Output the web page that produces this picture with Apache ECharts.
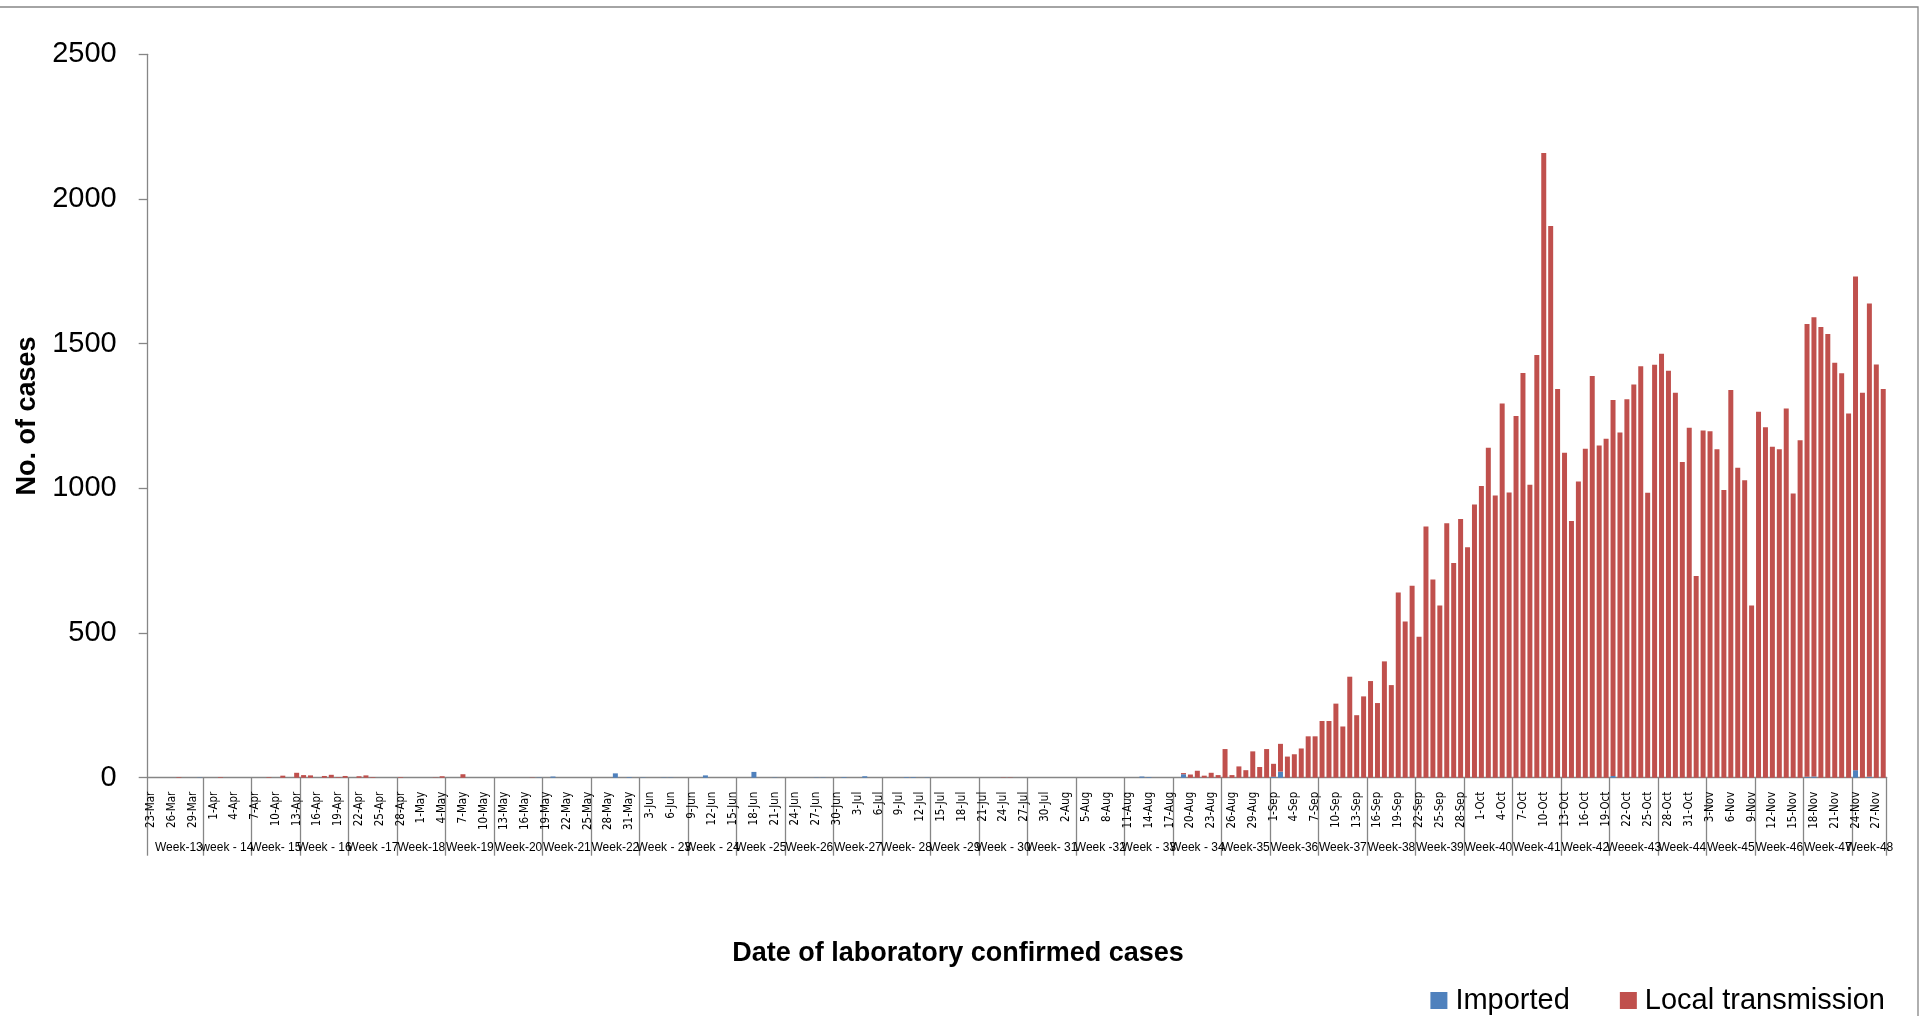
<!DOCTYPE html>
<html>
<head>
<meta charset="utf-8">
<script src="https://cdn.jsdelivr.net/npm/echarts@6/dist/echarts.min.js"></script>
<style>
html,body{margin:0;padding:0;background:#fff;}
#chart{width:1923px;height:1016px;}
</style>
</head>
<body>
<div id="chart"></div>
<script>
const dates = [
'23-Mar','24-Mar','25-Mar','26-Mar','27-Mar','28-Mar','29-Mar','30-Mar','31-Mar',
'1-Apr','2-Apr','3-Apr','4-Apr','5-Apr','6-Apr','7-Apr','8-Apr','9-Apr','10-Apr','11-Apr','12-Apr','13-Apr','14-Apr','15-Apr','16-Apr','17-Apr','18-Apr','19-Apr','20-Apr','21-Apr','22-Apr','23-Apr','24-Apr','25-Apr','26-Apr','27-Apr','28-Apr','29-Apr','30-Apr',
'1-May','2-May','3-May','4-May','5-May','6-May','7-May','8-May','9-May','10-May','11-May','12-May','13-May','14-May','15-May','16-May','17-May','18-May','19-May','20-May','21-May','22-May','23-May','24-May','25-May','26-May','27-May','28-May','29-May','30-May','31-May',
'1-Jun','2-Jun','3-Jun','4-Jun','5-Jun','6-Jun','7-Jun','8-Jun','9-Jun','10-Jun','11-Jun','12-Jun','13-Jun','14-Jun','15-Jun','16-Jun','17-Jun','18-Jun','19-Jun','20-Jun','21-Jun','22-Jun','23-Jun','24-Jun','25-Jun','26-Jun','27-Jun','28-Jun','29-Jun','30-Jun',
'1-Jul','2-Jul','3-Jul','4-Jul','5-Jul','6-Jul','7-Jul','8-Jul','9-Jul','10-Jul','11-Jul','12-Jul','13-Jul','14-Jul','15-Jul','16-Jul','17-Jul','18-Jul','19-Jul','20-Jul','21-Jul','22-Jul','23-Jul','24-Jul','25-Jul','26-Jul','27-Jul','28-Jul','29-Jul','30-Jul','31-Jul',
'1-Aug','2-Aug','3-Aug','4-Aug','5-Aug','6-Aug','7-Aug','8-Aug','9-Aug','10-Aug','11-Aug','12-Aug','13-Aug','14-Aug','15-Aug','16-Aug','17-Aug','18-Aug','19-Aug','20-Aug','21-Aug','22-Aug','23-Aug','24-Aug','25-Aug','26-Aug','27-Aug','28-Aug','29-Aug','30-Aug','31-Aug',
'1-Sep','2-Sep','3-Sep','4-Sep','5-Sep','6-Sep','7-Sep','8-Sep','9-Sep','10-Sep','11-Sep','12-Sep','13-Sep','14-Sep','15-Sep','16-Sep','17-Sep','18-Sep','19-Sep','20-Sep','21-Sep','22-Sep','23-Sep','24-Sep','25-Sep','26-Sep','27-Sep','28-Sep','29-Sep','30-Sep',
'1-Oct','2-Oct','3-Oct','4-Oct','5-Oct','6-Oct','7-Oct','8-Oct','9-Oct','10-Oct','11-Oct','12-Oct','13-Oct','14-Oct','15-Oct','16-Oct','17-Oct','18-Oct','19-Oct','20-Oct','21-Oct','22-Oct','23-Oct','24-Oct','25-Oct','26-Oct','27-Oct','28-Oct','29-Oct','30-Oct','31-Oct',
'1-Nov','2-Nov','3-Nov','4-Nov','5-Nov','6-Nov','7-Nov','8-Nov','9-Nov','10-Nov','11-Nov','12-Nov','13-Nov','14-Nov','15-Nov','16-Nov','17-Nov','18-Nov','19-Nov','20-Nov','21-Nov','22-Nov','23-Nov','24-Nov','25-Nov','26-Nov','27-Nov','28-Nov'
];

const imported = [
0,0,0,0,0,0,0,1,0,0,
0,0,0,0,0,0,0,0,0,0,
0,0,0,0,0,0,0,0,0,0,
0,0,0,0,0,0,0,0,0,0,
0,0,0,0,0,0,0,0,0,0,
0,0,0,0,0,0,1,0,4,0,
0,0,0,0,0,0,0,15,0,2,
0,1,0,0,1,1,0,0,0,0,
8,0,0,0,0,0,0,20,0,0,
1,0,0,0,0,0,1,1,0,0,
2,0,0,5,0,0,0,0,0,2,
2,0,1,0,0,0,0,0,0,0,
0,0,0,0,0,0,0,0,0,0,
0,0,0,0,0,0,0,0,0,0,
0,0,0,4,2,0,0,0,0,12,
0,0,0,0,0,0,0,0,0,0,
0,0,3,21,0,0,0,0,0,0,
0,0,0,0,0,0,0,0,0,0,
0,0,0,0,0,0,0,0,0,0,
0,0,0,0,0,0,0,0,0,0,
0,0,0,0,0,0,0,0,0,0,
0,6,0,0,0,0,0,0,0,0,
0,0,0,0,0,0,0,0,0,0,
0,0,0,0,0,0,0,0,0,3,
4,0,0,0,0,0,26,0,3,0,
0
];

const local = [
0,0,0,0,2,0,0,0,0,0,
2,0,0,0,0,0,0,2,0,7,
0,17,9,8,0,6,10,2,6,0,
5,8,2,0,0,0,2,0,0,0,
0,1,5,0,0,12,0,0,0,0,
0,0,0,0,0,1,0,0,0,0,
0,0,0,0,0,0,0,0,0,0,
0,0,0,0,0,0,0,0,0,0,
0,0,0,0,0,0,0,0,0,0,
0,0,0,0,0,0,0,0,0,0,
0,0,0,0,0,0,0,0,0,0,
0,0,0,0,0,0,0,0,0,0,
0,0,0,1,1,0,0,0,0,0,
0,0,0,0,0,0,0,0,0,0,
0,0,0,0,0,0,0,0,0,4,
11,24,7,17,9,99,9,39,26,91,
37,99,45,96,73,81,101,143,143,196,
196,256,177,349,216,281,334,258,402,320,
640,540,663,487,868,685,595,879,742,894,
796,944,1008,1140,975,1293,986,1250,1399,1012,
1461,2159,1907,1343,1123,887,1024,1137,1388,1148,
1171,1299,1193,1308,1359,1422,985,1427,1465,1406,
1330,1091,1209,697,1200,1197,1135,994,1340,1071,
1028,595,1265,1211,1144,1135,1276,982,1166,1565,
1587,1558,1533,1434,1398,1259,1706,1330,1636,1428,
1343
];

const weekNames = ['Week-13','week - 14','Week- 15','Week - 16','Week -17','Week-18','Week-19','Week-20','Week-21','Week-22',
'Week - 23','Week - 24','Week -25','Week-26','Week-27','Week- 28','Week -29','Week - 30','Week- 31','Week -32',
'Week - 33','Week - 34','Week-35','Week-36','Week-37','Week-38','Week-39','Week-40','Week-41','Week-42',
'Weeek-43','Week-44','Week-45','Week-46','Week-47','Week-48'];
const weekStarts = ['23-Mar','31-Mar','7-Apr','14-Apr','21-Apr','28-Apr','5-May','12-May','19-May','26-May',
'2-Jun','9-Jun','16-Jun','23-Jun','30-Jun','7-Jul','14-Jul','21-Jul','28-Jul','4-Aug',
'11-Aug','18-Aug','25-Aug','1-Sep','8-Sep','15-Sep','22-Sep','29-Sep','6-Oct','13-Oct',
'20-Oct','27-Oct','3-Nov','10-Nov','17-Nov','24-Nov'];

const yTicks = {min: 0, max: 2500, interval: 500};

// derived structure for week (second-level) axis, split in two alternating sets
const startIdx = weekStarts.map(d => dates.indexOf(d));
const startSet = new Set(startIdx);
const labelA = {}, labelB = {};
startIdx.forEach((s, i) => {
  const e = (i + 1 < startIdx.length ? startIdx[i + 1] : dates.length) - 1;
  (i % 2 === 0 ? labelA : labelB)[Math.round((s + e) / 2)] = weekNames[i];
});

const FONT = "'Liberation Sans', Arial, sans-serif";
function weekAxis(map, showTicks) {
  return {
    type: 'category',
    data: dates,
    position: 'bottom',
    boundaryGap: true,
    axisLine: {show: false},
    axisTick: {
      show: showTicks, length: 78, inside: false,
      interval: (i) => startSet.has(i),
      lineStyle: {color: '#868686', width: 1.3}
    },
    axisLabel: {
      interval: (i) => map[i] !== undefined,
      formatter: (v, i) => map[i] || '',
      hideOverlap: false,
      margin: 64, fontSize: 12, color: '#000', fontFamily: FONT
    },
    splitLine: {show: false}
  };
}

const chart = echarts.init(document.getElementById('chart'));
chart.setOption({
  animation: false,
  backgroundColor: '#ffffff',
  textStyle: {fontFamily: FONT},
  grid: {left: 147.7, right: 36.3, top: 54.3, bottom: 238.3},
  legend: {
    data: ['Imported', 'Local transmission'],
    right: 33, top: 981,
    icon: 'rect', itemWidth: 17, itemHeight: 17, itemGap: 50,
    textStyle: {fontSize: 29, color: '#000', fontFamily: FONT, padding: [0, 0, 0, 3]}
  },
  xAxis: [{
    type: 'category',
    data: dates,
    boundaryGap: true,
    axisLine: {show: true, lineStyle: {color: '#868686', width: 1.3}},
    axisTick: {show: false},
    axisLabel: {
      interval: 2, rotate: 90, margin: 14,
      fontSize: 11.5, color: '#000',
      fontFamily: "'Liberation Sans Narrow', 'DejaVu Sans Condensed', 'Liberation Sans', sans-serif"
    },
    splitLine: {show: false}
  }, weekAxis(labelA, true), weekAxis(labelB, false)],
  yAxis: {
    type: 'value',
    min: yTicks.min, max: yTicks.max, interval: yTicks.interval,
    name: 'No. of cases',
    nameLocation: 'middle', nameRotate: 90, nameGap: 97,
    nameTextStyle: {fontSize: 27, fontWeight: 'bold', color: '#000', fontFamily: FONT},
    axisLine: {show: true, lineStyle: {color: '#868686', width: 1.3}},
    axisTick: {show: true, length: 9, lineStyle: {color: '#868686', width: 1.3}},
    axisLabel: {fontSize: 29, color: '#000', margin: 31, fontFamily: FONT,
      formatter: (v) => String(v)},
    splitLine: {show: false}
  },
  graphic: [{
    type: 'text', x: 958, y: 954, silent: true,
    style: {text: 'Date of laboratory confirmed cases', fill: '#000',
      font: "bold 27px 'Liberation Sans', Arial, sans-serif",
      textAlign: 'center', textVerticalAlign: 'middle'}
  }, {
    type: 'rect', silent: true,
    shape: {x: -2, y: 7, width: 1920, height: 1020},
    style: {fill: 'none', stroke: '#868686', lineWidth: 1.3}
  }],
  series: [{
    name: 'Imported', type: 'bar', stack: 'cases',
    xAxisIndex: 0, yAxisIndex: 0,
    data: imported, barCategoryGap: '28%',
    itemStyle: {color: '#4F81BD'}
  }, {
    name: 'Local transmission', type: 'bar', stack: 'cases',
    xAxisIndex: 0, yAxisIndex: 0,
    data: local, barCategoryGap: '28%',
    itemStyle: {color: '#C0504D'}
  }]
});
</script>
</body>
</html>
